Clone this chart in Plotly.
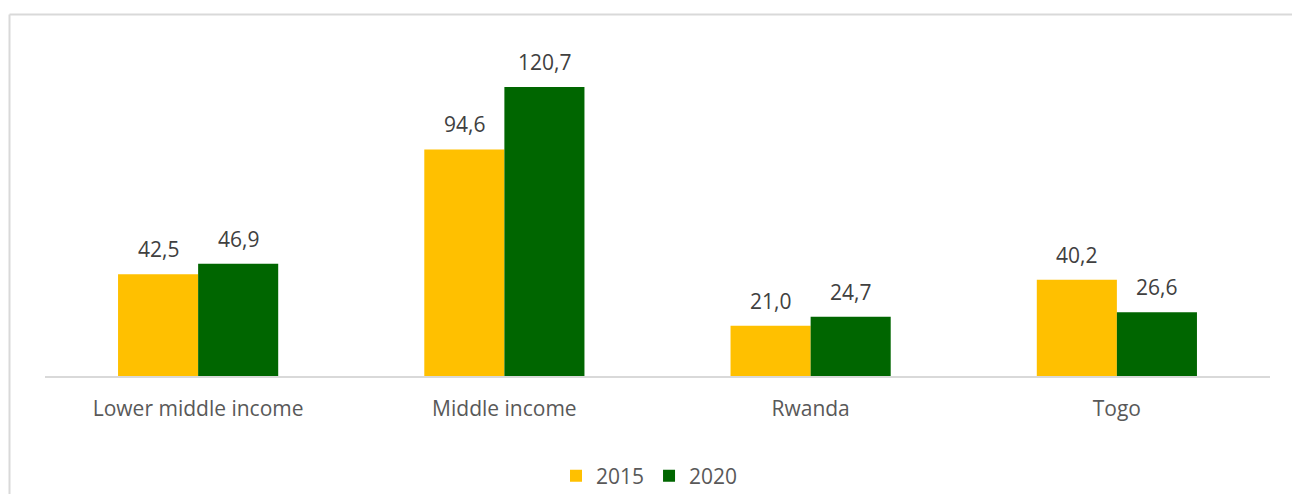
import plotly.graph_objects as go

categories = ["Lower middle income", "Middle income", "Rwanda", "Togo"]
vals_2015 = [42.5, 94.6, 21.0, 40.2]
vals_2020 = [46.9, 120.7, 24.7, 26.6]

_FONT = dict(family="Open Sans, sans-serif", size=21, color="#595959")
_LBL = dict(family="Open Sans, sans-serif", size=21, color="#404040")
_W, _H = 1292, 494
_L, _R, _T, _B = 45, 22, 30, 118
_PH = _H - _T - _B
_PW = _W - _L - _R

fig = go.Figure()
fig.add_trace(go.Bar(x=categories, y=vals_2015, name="2015",
                     marker_color="#FFC000", marker_line_width=0))
fig.add_trace(go.Bar(x=categories, y=vals_2020, name="2020",
                     marker_color="#006600", marker_line_width=0))

# value labels above bars
for vals, dx in [(vals_2015, -40), (vals_2020, 40)]:
    for c, v in zip(categories, vals):
        fig.add_annotation(x=c, y=v, text=f"{v:.1f}".replace(".", ","),
                           xshift=dx, yshift=25, yanchor="middle",
                           showarrow=False, font=_LBL)

# outer chart frame: top and left edges only (rest runs off the image)
fig.add_shape(type="line", xref="paper", yref="paper",
              x0=(9.5 - _L) / _PW, x1=(_W + 5 - _L) / _PW,
              y0=(_H - _B - 14.5) / _PH, y1=(_H - _B - 14.5) / _PH,
              line=dict(color="#d9d9d9", width=2))
fig.add_shape(type="line", xref="paper", yref="paper",
              x0=(9.5 - _L) / _PW, x1=(9.5 - _L) / _PW,
              y0=-(_B + 5) / _PH, y1=(_H - _B - 14.5) / _PH,
              line=dict(color="#d9d9d9", width=2))

fig.update_xaxes(showline=True, linecolor="#d9d9d9", linewidth=2, showgrid=False,
                 ticks="outside", ticklen=13, tickcolor="rgba(0,0,0,0)", tickfont=_FONT)
fig.update_yaxes(range=[0, 144.5], visible=False, showgrid=False, zeroline=False)
fig.update_layout(
    width=_W, height=_H, barmode="group", bargap=0.477, bargroupgap=0,
    font=_FONT, plot_bgcolor="white", paper_bgcolor="white",
    margin=dict(l=_L, r=_R, t=_T, b=_B, autoexpand=False),
    legend=dict(orientation="h", x=0.5 - 8 / _PW, xanchor="center", y=-(476 - 376) / _PH,
                yanchor="middle", font=_FONT, itemwidth=30),
    showlegend=True,
)
fig.write_html("out.html", config={"displayModeBar": False},
               post_script="document.body.style.margin='0';")
